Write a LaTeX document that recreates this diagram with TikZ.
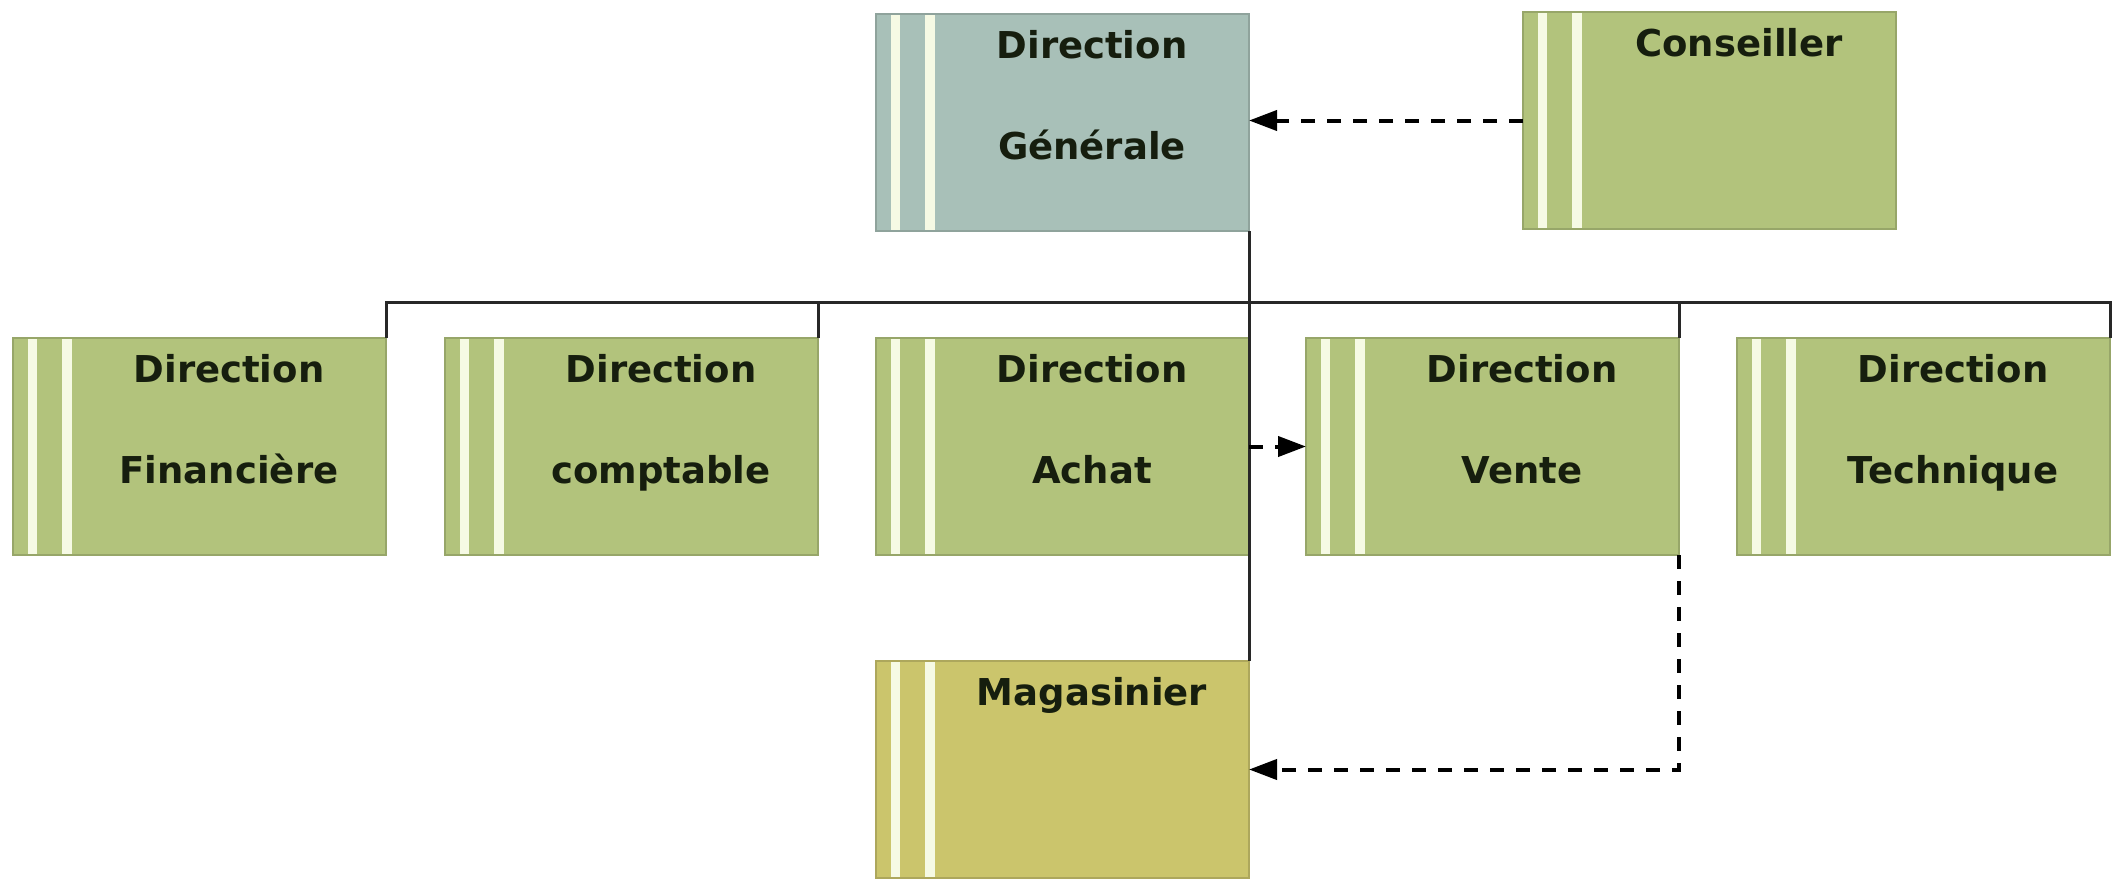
\documentclass[tikz,border=0pt]{standalone}
\usepackage{fontspec}
\setmainfont{DejaVu Sans}
\usetikzlibrary{arrows.meta}
\definecolor{boxgreen}{RGB}{178,195,124}
\definecolor{boxteal}{RGB}{168,192,184}
\definecolor{boxolive}{RGB}{203,197,108}
\definecolor{gapcol}{RGB}{246,250,228}
\definecolor{txtcol}{RGB}{22,30,14}
\definecolor{linecol}{RGB}{40,40,40}
\tikzset{
  orgnode/.style={rectangle, minimum width=373pt, minimum height=217pt,
    inner sep=0pt, outer sep=0pt, fill=#1, draw=#1!85!black, line width=1.5pt,
    path picture={
      \fill[gapcol] ([xshift=15pt]path picture bounding box.north west)
        rectangle ([xshift=24pt]path picture bounding box.south west);
      \fill[gapcol] ([xshift=49pt]path picture bounding box.north west)
        rectangle ([xshift=59pt]path picture bounding box.south west);
    }},
  lbl/.style={anchor=base, inner sep=0pt, text=txtcol,
    font=\fontsize{37}{40}\selectfont\bfseries},
  solidline/.style={draw=linecol, line width=3pt},
  dashline/.style={draw=black, line width=4pt, dash pattern=on 14pt off 12pt,
    -{Triangle[length=28pt,width=20pt]}},
}
\newcommand\orgbox[4]{% name, left x, top y, colour
  \node[orgnode=#4] (#1) at (#2+186.5,#3+108.5) {};}
\begin{document}
\begin{tikzpicture}[x=1pt,y=-1pt]
\useasboundingbox[fill=white] (0,0) rectangle (2114,878);
% boxes
\orgbox{dg}{876}{14}{boxteal}
\orgbox{con}{1523}{12}{boxgreen}
\orgbox{fin}{13}{338}{boxgreen}
\orgbox{comp}{445}{338}{boxgreen}
\orgbox{achat}{876}{338}{boxgreen}
\orgbox{vente}{1306}{338}{boxgreen}
\orgbox{tech}{1737}{338}{boxgreen}
\orgbox{mag}{876}{661}{boxolive}
% labels
\node[lbl] (dg1) at ([xshift=216pt,yshift=-44pt]dg.north west) {Direction};
\node[lbl] (dg2) at ([xshift=216pt,yshift=-145pt]dg.north west) {Générale};
\node[lbl] (con1) at ([xshift=216pt,yshift=-44pt]con.north west) {Conseiller};
\node[lbl] (fin1) at ([xshift=216pt,yshift=-44pt]fin.north west) {Direction};
\node[lbl] (fin2) at ([xshift=216pt,yshift=-145pt]fin.north west) {Financière};
\node[lbl] (comp1) at ([xshift=216pt,yshift=-44pt]comp.north west) {Direction};
\node[lbl] (comp2) at ([xshift=216pt,yshift=-145pt]comp.north west) {comptable};
\node[lbl] (achat1) at ([xshift=216pt,yshift=-44pt]achat.north west) {Direction};
\node[lbl] (achat2) at ([xshift=216pt,yshift=-145pt]achat.north west) {Achat};
\node[lbl] (vente1) at ([xshift=216pt,yshift=-44pt]vente.north west) {Direction};
\node[lbl] (vente2) at ([xshift=216pt,yshift=-145pt]vente.north west) {Vente};
\node[lbl] (tech1) at ([xshift=216pt,yshift=-44pt]tech.north west) {Direction};
\node[lbl] (tech2) at ([xshift=216pt,yshift=-145pt]tech.north west) {Technique};
\node[lbl] (mag1) at ([xshift=216pt,yshift=-44pt]mag.north west) {Magasinier};
% bus
\coordinate (bus) at (0,302);
\path[solidline] (fin.north east) -- (fin.north east |- bus) -| (tech.north east);
\path[solidline] (comp.north east) -- (comp.north east |- bus);
\path[solidline] (vente.north east) -- (vente.north east |- bus);
\path[solidline] (dg.south east) -- (mag.north east);
% dashed arrows
\path[dashline] (con.west) -- (con.west -| dg.east);
\path[dashline] (achat.east) -- (vente.west);
\path[dashline] (vente.south east) |- (mag.east);
\end{tikzpicture}
\end{document}
